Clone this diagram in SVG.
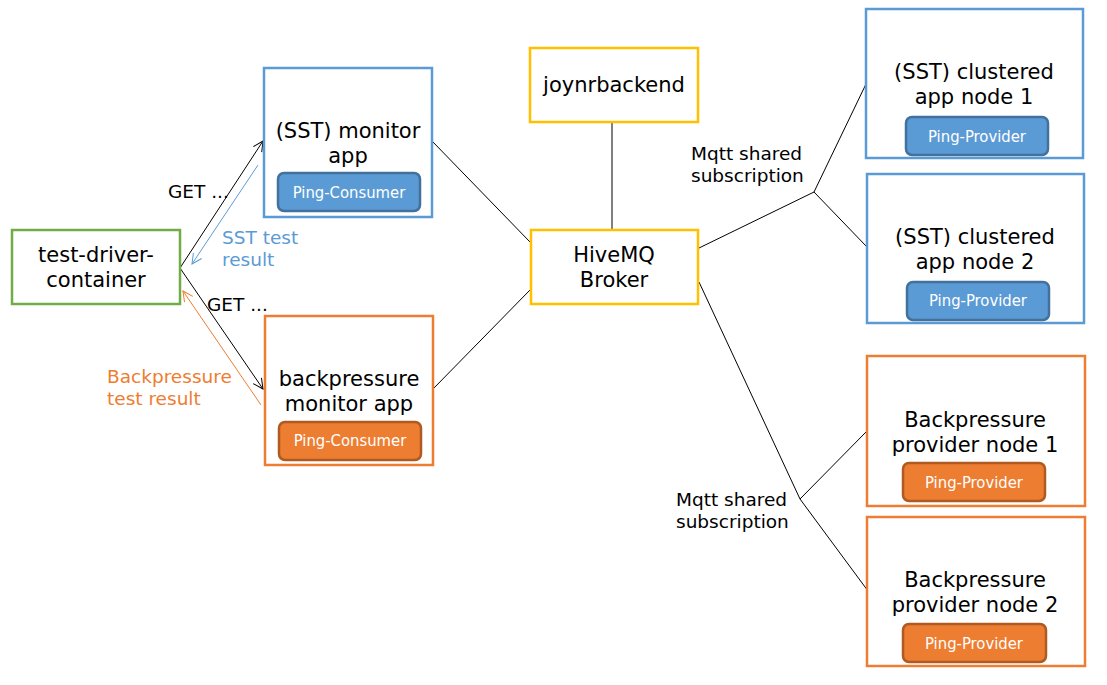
<svg xmlns="http://www.w3.org/2000/svg" width="1107" height="685" viewBox="0 0 1107 685">
<style>
text{font-family:"DejaVu Sans","Liberation Sans",sans-serif;}
.t{font-size:21px;fill:#000;text-anchor:middle;}
.w{font-family:"DejaVu Sans Condensed","DejaVu Sans",sans-serif;font-size:16.5px;fill:#fff;text-anchor:middle;}
.l{font-size:18.5px;}
.box{fill:#fff;stroke-width:2.5;}
.blue{stroke:#5B9BD5;}
.org{stroke:#ED7D31;}
.yel{stroke:#FFC000;}
.grn{stroke:#70AD47;}
.pb{fill:#5B9BD5;stroke:#41719C;stroke-width:2.5;}
.po{fill:#ED7D31;stroke:#AE5A21;stroke-width:2.5;}
.c{fill:none;stroke:#000;stroke-width:1;}
</style>
<defs>
<marker id="ak" viewBox="0 0 12 12" refX="11" refY="6" markerWidth="12" markerHeight="12" markerUnits="userSpaceOnUse" orient="auto"><path d="M1,1 L11,6 L1,11" fill="none" stroke="#000" stroke-width="1"/></marker>
<marker id="ab" viewBox="0 0 12 12" refX="11" refY="6" markerWidth="12" markerHeight="12" markerUnits="userSpaceOnUse" orient="auto"><path d="M1,1 L11,6 L1,11" fill="none" stroke="#5B9BD5" stroke-width="1"/></marker>
<marker id="ao" viewBox="0 0 12 12" refX="11" refY="6" markerWidth="12" markerHeight="12" markerUnits="userSpaceOnUse" orient="auto"><path d="M1,1 L11,6 L1,11" fill="none" stroke="#ED7D31" stroke-width="1"/></marker>
</defs>
<rect width="1107" height="685" fill="#fff"/>
<g id="connectors">
<line class="c" x1="612" y1="122" x2="612" y2="230" stroke="#404040"/>
<line class="c" x1="432" y1="141" x2="530" y2="242"/>
<line class="c" x1="433" y1="389" x2="530" y2="290"/>
<polyline class="c" points="699,248 814,192 866,84"/>
<line class="c" x1="814" y1="192" x2="867" y2="247"/>
<polyline class="c" points="699,282 800,499 867,431"/>
<line class="c" x1="800" y1="499" x2="868" y2="591"/>
<line class="c" x1="180" y1="268" x2="263" y2="141" marker-end="url(#ak)"/>
<line class="c" x1="180" y1="268" x2="263" y2="389" marker-end="url(#ak)"/>
<line x1="258" y1="165" x2="192" y2="264" stroke="#5B9BD5" stroke-width="1" marker-end="url(#ab)"/>
<line x1="261" y1="405" x2="183" y2="291" stroke="#ED7D31" stroke-width="1" marker-end="url(#ao)"/>
<text class="l" x="168" y="198">GET ...</text>
<text class="l" x="207" y="311">GET ...</text>
<text class="l" x="222" y="244" fill="#5B9BD5">SST test</text>
<text class="l" x="222" y="266" fill="#5B9BD5">result</text>
<text class="l" x="107" y="383" fill="#ED7D31">Backpressure</text>
<text class="l" x="107" y="405" fill="#ED7D31">test result</text>
<text class="l" x="691" y="160">Mqtt shared</text>
<text class="l" x="691" y="182">subscription</text>
<text class="l" x="676" y="506">Mqtt shared</text>
<text class="l" x="676" y="528">subscription</text>
</g>
<g id="test-driver">
<rect class="box grn" x="12" y="230" width="168" height="74"/>
<text class="t" x="96" y="262">test-driver-</text>
<text class="t" x="96" y="287">container</text>
</g>
<g id="sst-monitor">
<rect class="box blue" x="264" y="68" width="168" height="149"/>
<text class="t" x="348" y="138">(SST) monitor</text>
<text class="t" x="348" y="163">app</text>
<rect class="pb" x="278" y="173" width="142" height="38" rx="6"/>
<text class="w" x="349" y="198">Ping-Consumer</text>
</g>
<g id="bp-monitor">
<rect class="box org" x="265" y="316" width="168" height="149"/>
<text class="t" x="349" y="386">backpressure</text>
<text class="t" x="349" y="411">monitor app</text>
<rect class="po" x="279" y="422" width="142" height="38" rx="6"/>
<text class="w" x="350" y="446">Ping-Consumer</text>
</g>
<g id="joynrbackend">
<rect class="box yel" x="530" y="48" width="168" height="74"/>
<text class="t" x="614" y="92">joynrbackend</text>
</g>
<g id="hivemq">
<rect class="box yel" x="531" y="230" width="167" height="74"/>
<text class="t" x="614" y="262">HiveMQ</text>
<text class="t" x="614" y="287">Broker</text>
</g>
<g id="sst-node1">
<rect class="box blue" x="866" y="9" width="217" height="149"/>
<text class="t" x="974" y="79">(SST) clustered</text>
<text class="t" x="974" y="104">app node 1</text>
<rect class="pb" x="906" y="117" width="142" height="38" rx="6"/>
<text class="w" x="977" y="142">Ping-Provider</text>
</g>
<g id="sst-node2">
<rect class="box blue" x="867" y="174" width="217" height="149"/>
<text class="t" x="975" y="244">(SST) clustered</text>
<text class="t" x="975" y="269">app node 2</text>
<rect class="pb" x="907" y="282" width="142" height="38" rx="6"/>
<text class="w" x="978" y="306">Ping-Provider</text>
</g>
<g id="bp-node1">
<rect class="box org" x="867" y="356" width="218" height="150"/>
<text class="t" x="975" y="427">Backpressure</text>
<text class="t" x="975" y="452">provider node 1</text>
<rect class="po" x="903" y="463" width="142" height="38" rx="6"/>
<text class="w" x="974" y="488">Ping-Provider</text>
</g>
<g id="bp-node2">
<rect class="box org" x="867" y="517" width="218" height="149"/>
<text class="t" x="975" y="587">Backpressure</text>
<text class="t" x="975" y="612">provider node 2</text>
<rect class="po" x="903" y="624" width="143" height="38" rx="6"/>
<text class="w" x="974" y="649">Ping-Provider</text>
</g>
</svg>
